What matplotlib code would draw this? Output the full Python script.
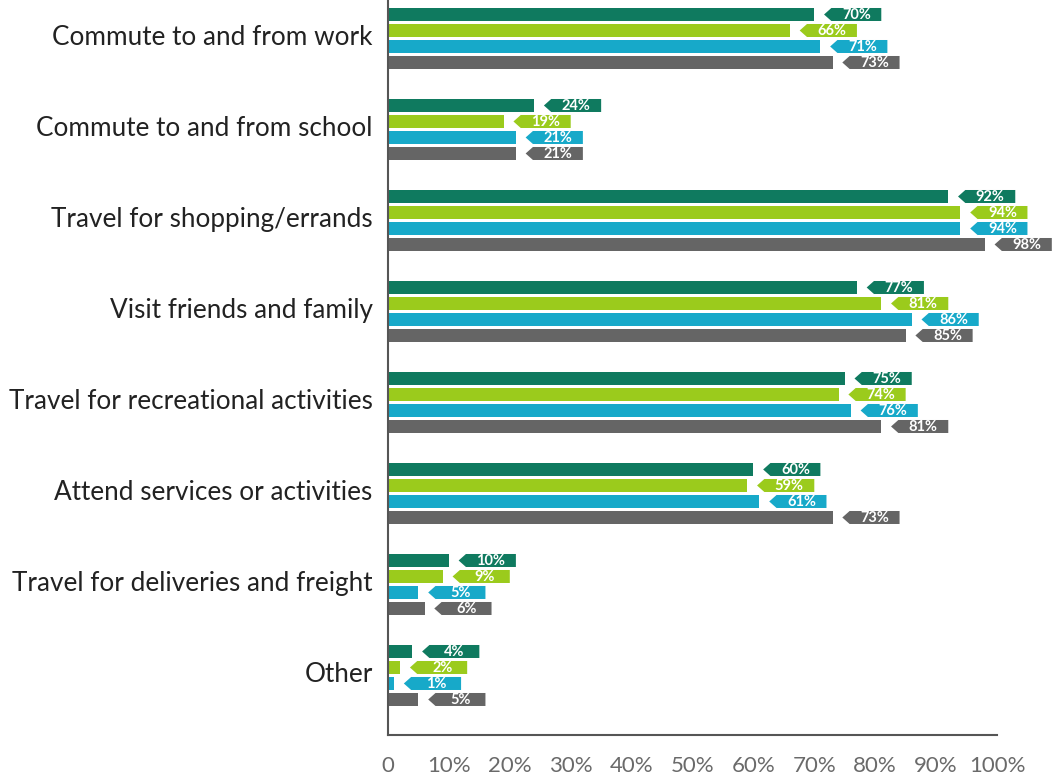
import matplotlib
matplotlib.use("Agg")
import matplotlib.pyplot as plt
from matplotlib.patches import Polygon
import matplotlib.transforms as mtransforms
import numpy as np

categories = ["Commute to and from work", "Commute to and from school",
              "Travel for shopping/errands", "Visit friends and family",
              "Travel for recreational activities", "Attend services or activities",
              "Travel for deliveries and freight", "Other"]
series_a = [70, 24, 92, 77, 75, 60, 10, 4]
series_b = [66, 19, 94, 81, 74, 59, 9, 2]
series_c = [71, 21, 94, 86, 76, 61, 5, 1]
series_d = [73, 21, 98, 85, 81, 73, 6, 5]
xticks = [0, 10, 20, 30, 40, 50, 60, 70, 80, 90, 100]
xticklabels = ["0", "10%", "20%", "30%", "40%", "50%", "60%", "70%", "80%", "90%", "100%"]

colors = ["#0F7A5F", "#9BCB1C", "#17A9C9", "#656565"]
all_series = [series_a, series_b, series_c, series_d]

plt.rcParams['font.family'] = ['Lato', 'DejaVu Sans']

fig = plt.figure(figsize=(10.6, 7.77), dpi=100)
ax = fig.add_axes([388/1060, 42/777, (997-388)/1060, 735/777])

pitch = 16/91
bh = 13/91
y0 = np.arange(len(categories))
for k, (vals, col) in enumerate(zip(all_series, colors)):
    ys = y0 + (k - 1.5) * pitch
    ax.barh(ys, vals, height=bh, color=col, zorder=2)
    for y, v in zip(ys, vals):
        tip = v + 1.6
        base = v + 2.8
        end = v + 11.0
        poly = Polygon([[tip, y], [base, y - bh/2], [end, y - bh/2],
                        [end, y + bh/2], [base, y + bh/2]], closed=True,
                       facecolor=col, edgecolor='none', clip_on=False, zorder=3)
        ax.add_patch(poly)
        ax.text((base + end) / 2, y + 0.005, f"{v}%", ha='center', va='center', color='white',
                fontsize=10.5, fontweight='bold', clip_on=False, zorder=4)

ax.set_xlim(0, 100)
ax.set_ylim(7.654, -0.423)
ax.set_yticks(y0)
ax.set_yticklabels(categories, fontsize=18.8, color='#222222')
ax.set_xticks(xticks)
ax.set_xticklabels(xticklabels, fontsize=16, color='#6a6a6a')
ax.tick_params(axis='y', length=0, pad=11)
ax.tick_params(axis='x', length=0, pad=15)
offset = mtransforms.ScaledTranslation(0, 3/100, fig.dpi_scale_trans)
for lab in ax.get_yticklabels():
    lab.set_transform(lab.get_transform() + offset)
for s in ['top', 'right']:
    ax.spines[s].set_visible(False)
for s in ['left', 'bottom']:
    ax.spines[s].set_color('#555555')
    ax.spines[s].set_linewidth(1.5)

fig.savefig("out.png", dpi=100)
